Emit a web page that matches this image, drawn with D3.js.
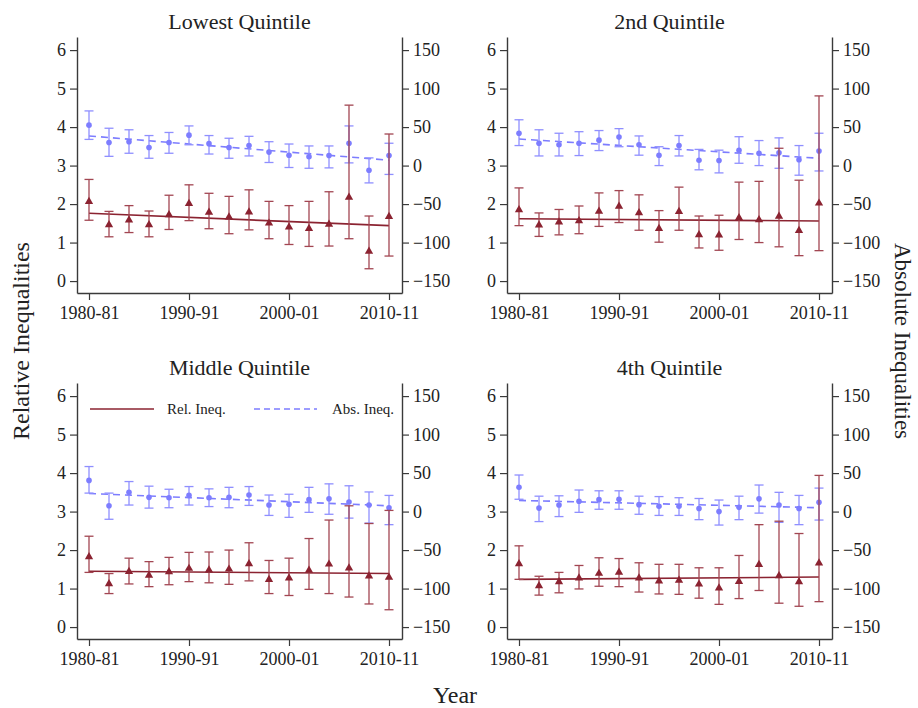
<!DOCTYPE html>
<html>
<head>
<meta charset="utf-8">
<script src="https://cdn.jsdelivr.net/npm/d3@7"></script>
<style>
  html, body { margin: 0; padding: 0; background: #fff; }
  svg { display: block; }
  text { font-family: "Liberation Serif", "DejaVu Serif", serif; fill: #222; }
</style>
</head>
<body>
<svg id="chart" width="918" height="708"></svg>
<script>
// ---------------- DATA ----------------
const years = [1980, 1982, 1984, 1986, 1988, 1990, 1992, 1994, 1996, 1998, 2000, 2002, 2004, 2006, 2008, 2010];
const xTickYears = [1980, 1990, 2000, 2010];
const xTickLabels = ["1980-81", "1990-91", "2000-01", "2010-11"];
const relTicks = [0, 1, 2, 3, 4, 5, 6];
const absTicks = [-150, -100, -50, 0, 50, 100, 150];
const panelTitles = ["Lowest Quintile", "2nd Quintile", "Middle Quintile", "4th Quintile"];

// Lowest quintile
const q1RelMean = [2.05, 1.45, 1.57, 1.45, 1.71, 2.00, 1.77, 1.65, 1.78, 1.49, 1.39, 1.35, 1.46, 2.16, 0.76, 1.66];
const q1RelHi   = [2.64, 1.81, 1.96, 1.82, 2.23, 2.50, 2.28, 2.20, 2.37, 2.07, 1.96, 2.07, 2.32, 4.57, 1.69, 3.82];
const q1RelLo   = [1.58, 1.15, 1.26, 1.15, 1.34, 1.57, 1.36, 1.23, 1.33, 1.10, 0.95, 0.90, 0.91, 1.10, 0.32, 0.65];
const q1RelFit  = [1.76, 1.44];
const q1AbsMean = [52.5, 30, 31, 23.5, 30, 39.5, 28.5, 23.5, 26, 17.5, 13.5, 11.5, 13, 29, -6, 13];
const q1AbsHi   = [71, 48.5, 46.5, 39, 43, 51.5, 39, 35.5, 38, 31, 28, 25.5, 25.5, 51.5, 10, 29];
const q1AbsLo   = [34, 12, 16, 9.5, 16, 27, 15, 9.5, 12.5, 4, -2.5, -3.5, -3, 3.5, -22.5, -11.5];
const q1AbsFit  = [38.5, 7];

// 2nd quintile
const q2RelMean = [1.84, 1.44, 1.52, 1.55, 1.80, 1.93, 1.76, 1.35, 1.79, 1.19, 1.18, 1.63, 1.58, 1.67, 1.30, 2.01];
const q2RelHi   = [2.42, 1.77, 1.86, 1.95, 2.29, 2.35, 2.24, 1.83, 2.44, 1.69, 1.71, 2.57, 2.59, 3.45, 2.62, 4.81];
const q2RelLo   = [1.44, 1.16, 1.20, 1.23, 1.42, 1.52, 1.32, 1.01, 1.32, 0.86, 0.80, 1.08, 1.00, 0.89, 0.66, 0.79];
const q2RelFit  = [1.62, 1.56];
const q2AbsMean = [42, 29, 27, 29, 33, 37, 27, 13.5, 26, 7, 6.5, 20, 16, 16.5, 7.5, 19];
const q2AbsHi   = [59.5, 46.5, 42, 44, 45.5, 48, 38.5, 24.5, 39, 21, 20, 37.5, 32.5, 36, 26, 42];
const q2AbsLo   = [26, 12.5, 12.5, 13, 19.5, 24.5, 13.5, 0, 12.5, -5.5, -9.5, 3, 0, -3.5, -12.5, -7];
const q2AbsFit  = [34.5, 9.5];

// Middle quintile
const q3RelMean = [1.81, 1.11, 1.43, 1.33, 1.42, 1.51, 1.47, 1.49, 1.63, 1.22, 1.26, 1.46, 1.62, 1.52, 1.31, 1.28];
const q3RelHi   = [2.36, 1.39, 1.79, 1.70, 1.81, 1.94, 1.95, 2.00, 2.19, 1.73, 1.79, 2.30, 2.78, 3.15, 2.69, 3.03];
const q3RelLo   = [1.42, 0.87, 1.12, 1.05, 1.10, 1.18, 1.15, 1.11, 1.20, 0.87, 0.82, 0.98, 0.87, 0.78, 0.60, 0.45];
const q3RelFit  = [1.45, 1.39];
const q3AbsMean = [40.5, 7.5, 25, 18.5, 18, 21, 18, 18.5, 21.5, 8.5, 9.5, 15.5, 16.5, 12.5, 8.5, 5];
const q3AbsHi   = [58.5, 24, 39, 33, 29, 32.5, 29.5, 31.5, 32.5, 21.5, 22.5, 31.5, 36, 33.5, 25.5, 21];
const q3AbsLo   = [24, -10, 8.5, 4.5, 5, 8.5, 6.5, 5, 8, -5, -7.5, -1, -3.5, -8.5, -15, -17];
const q3AbsFit  = [23.5, 7.5];

// 4th quintile
const q4RelMean = [1.63, 1.06, 1.16, 1.26, 1.38, 1.41, 1.26, 1.18, 1.20, 1.10, 1.00, 1.17, 1.61, 1.32, 1.16, 1.65];
const q4RelHi   = [2.11, 1.32, 1.42, 1.60, 1.80, 1.78, 1.67, 1.63, 1.63, 1.54, 1.54, 1.86, 2.66, 2.75, 2.43, 3.94];
const q4RelLo   = [1.24, 0.83, 0.89, 0.99, 1.06, 1.05, 0.91, 0.86, 0.85, 0.75, 0.59, 0.74, 0.95, 0.62, 0.54, 0.66];
const q4RelFit  = [1.24, 1.30];
const q4AbsMean = [31.5, 4.5, 8.5, 13.5, 15.5, 16, 9, 7, 7, 4, 0, 5.5, 16.5, 8.5, 4, 12];
const q4AbsHi   = [47.5, 20, 20.5, 28, 27, 27, 20, 19.5, 18, 17, 15, 20, 34.5, 25, 21, 30.5];
const q4AbsLo   = [16, -13, -6.5, -1, 3, 3, -3.5, -5, -5, -10.5, -17.5, -10.5, -2, -14, -17, -11];
const q4AbsFit  = [14.5, 5];

const panels = [
  {title: panelTitles[0], relMean: q1RelMean, relHi: q1RelHi, relLo: q1RelLo, relFit: q1RelFit, absMean: q1AbsMean, absHi: q1AbsHi, absLo: q1AbsLo, absFit: q1AbsFit},
  {title: panelTitles[1], relMean: q2RelMean, relHi: q2RelHi, relLo: q2RelLo, relFit: q2RelFit, absMean: q2AbsMean, absHi: q2AbsHi, absLo: q2AbsLo, absFit: q2AbsFit},
  {title: panelTitles[2], relMean: q3RelMean, relHi: q3RelHi, relLo: q3RelLo, relFit: q3RelFit, absMean: q3AbsMean, absHi: q3AbsHi, absLo: q3AbsLo, absFit: q3AbsFit},
  {title: panelTitles[3], relMean: q4RelMean, relHi: q4RelHi, relLo: q4RelLo, relFit: q4RelFit, absMean: q4AbsMean, absHi: q4AbsHi, absLo: q4AbsLo, absFit: q4AbsFit}
];

// ---------------- LAYOUT ----------------
const RED = "#8b2331";
const RED_BAR = "#a24652";
const BLUE = "#7d7dff";
const BLUE_BAR = "#8f8fff";
const AXIS = "#3a3a3a";

const svg = d3.select("#chart");

const panelW = 325;     // axis-to-axis width
const panelH = 256;     // axis top to x axis
const origins = [[77, 37], [507, 37], [77, 383], [507, 383]];

const relDomain = [-0.31, 6.34];
const absDomain = [(relDomain[0] - 3) * 50, (relDomain[1] - 3) * 50];

panels.forEach((p, i) => {
  const [ox, oy] = origins[i];
  const g = svg.append("g").attr("transform", `translate(${ox},${oy})`);

  const x = d3.scaleLinear().domain([1978.8, 2011.3]).range([0, panelW]);
  const yRel = d3.scaleLinear().domain(relDomain).range([panelH, 0]);
  const yAbs = d3.scaleLinear().domain(absDomain).range([panelH, 0]);

  // Axes
  const axL = d3.axisLeft(yRel).tickValues(relTicks).tickSize(7).tickSizeOuter(0).tickPadding(4).tickFormat(d3.format("d"));
  const axR = d3.axisRight(yAbs).tickValues(absTicks).tickSize(7).tickSizeOuter(0).tickPadding(4).tickFormat(d3.format("d"));
  const axB = d3.axisBottom(x).tickValues(xTickYears).tickSize(7).tickSizeOuter(0).tickPadding(6)
      .tickFormat((d, k) => xTickLabels[k]);

  [[axL, `translate(0,0)`], [axR, `translate(${panelW},0)`], [axB, `translate(0,${panelH})`]].forEach(([ax, tr]) => {
    const a = g.append("g").attr("transform", tr).call(ax);
    a.select(".domain").attr("stroke", AXIS).attr("stroke-width", 1.4);
    a.selectAll(".tick line").attr("stroke", AXIS).attr("stroke-width", 1.2);
    a.selectAll(".tick text").attr("font-size", 18).attr("fill", "#222");
  });

  // Title
  g.append("text").attr("x", panelW / 2).attr("y", -8).attr("text-anchor", "middle")
    .attr("font-size", 22).text(p.title);

  const capW = 4.5;

  // Absolute inequality (blue) - fit line, error bars, markers
  g.append("line")
    .attr("x1", x(years[0])).attr("x2", x(years[years.length - 1]))
    .attr("y1", yAbs(p.absFit[0])).attr("y2", yAbs(p.absFit[1]))
    .attr("stroke", BLUE).attr("stroke-width", 1.6).attr("stroke-dasharray", "7,5");

  const bBars = g.append("g").attr("stroke", BLUE_BAR).attr("stroke-width", 1.3).attr("fill", "none");
  years.forEach((yr, k) => {
    const cx = x(yr);
    bBars.append("line").attr("x1", cx).attr("x2", cx).attr("y1", yAbs(p.absLo[k])).attr("y2", yAbs(p.absHi[k]));
    bBars.append("line").attr("x1", cx - capW).attr("x2", cx + capW).attr("y1", yAbs(p.absLo[k])).attr("y2", yAbs(p.absLo[k]));
    bBars.append("line").attr("x1", cx - capW).attr("x2", cx + capW).attr("y1", yAbs(p.absHi[k])).attr("y2", yAbs(p.absHi[k]));
  });
  g.append("g").selectAll("circle").data(years).join("circle")
    .attr("cx", d => x(d)).attr("cy", (d, k) => yAbs(p.absMean[k])).attr("r", 2.8)
    .attr("fill", BLUE);

  // Relative inequality (red)
  g.append("line")
    .attr("x1", x(years[0])).attr("x2", x(years[years.length - 1]))
    .attr("y1", yRel(p.relFit[0])).attr("y2", yRel(p.relFit[1]))
    .attr("stroke", RED).attr("stroke-width", 1.6);

  const rBars = g.append("g").attr("stroke", RED_BAR).attr("stroke-width", 1.3).attr("fill", "none");
  years.forEach((yr, k) => {
    const cx = x(yr);
    rBars.append("line").attr("x1", cx).attr("x2", cx).attr("y1", yRel(p.relLo[k])).attr("y2", yRel(p.relHi[k]));
    rBars.append("line").attr("x1", cx - capW).attr("x2", cx + capW).attr("y1", yRel(p.relLo[k])).attr("y2", yRel(p.relLo[k]));
    rBars.append("line").attr("x1", cx - capW).attr("x2", cx + capW).attr("y1", yRel(p.relHi[k])).attr("y2", yRel(p.relHi[k]));
  });
  const tri = d3.symbol().type(d3.symbolTriangle).size(30);
  g.append("g").selectAll("path").data(years).join("path")
    .attr("d", tri)
    .attr("transform", (d, k) => `translate(${x(d)},${yRel(p.relMean[k]) - 0.5})`)
    .attr("fill", RED);

  // Legend in Middle Quintile panel
  if (i === 2) {
    const ly = 26;
    const lg = g.append("g");
    lg.append("line").attr("x1", 13).attr("x2", 77).attr("y1", ly).attr("y2", ly)
      .attr("stroke", RED).attr("stroke-width", 1.6);
    lg.append("text").attr("x", 90).attr("y", ly + 5).attr("font-size", 15).text("Rel. Ineq.");
    lg.append("line").attr("x1", 177).attr("x2", 240).attr("y1", ly).attr("y2", ly)
      .attr("stroke", BLUE).attr("stroke-width", 1.6).attr("stroke-dasharray", "6,4");
    lg.append("text").attr("x", 255).attr("y", ly + 5).attr("font-size", 15).text("Abs. Ineq.");
  }
});

// Overall axis titles
svg.append("text").attr("transform", "translate(29,341) rotate(-90)").attr("text-anchor", "middle")
  .attr("font-size", 24).text("Relative Inequalities");
svg.append("text").attr("transform", "translate(895,341) rotate(90)").attr("text-anchor", "middle")
  .attr("font-size", 23).text("Absolute Inequalities");
svg.append("text").attr("x", 455).attr("y", 703).attr("text-anchor", "middle")
  .attr("font-size", 24).text("Year");
</script>
</body>
</html>
